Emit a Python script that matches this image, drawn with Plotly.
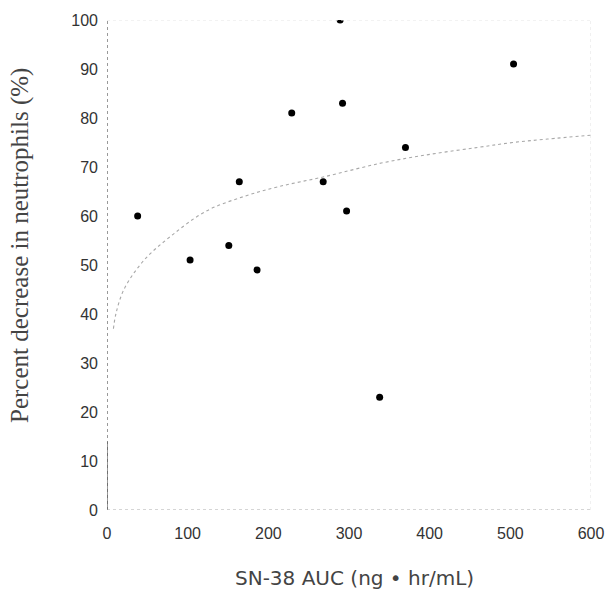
import plotly.graph_objects as go

# Observed patients: SN-38 AUC vs. percent decrease in neutrophils
auc = [38, 103, 151, 164, 186, 229, 268, 289, 292, 297, 338, 370, 504]
pct_decrease = [60, 51, 54, 67, 49, 81, 67, 100, 83, 61, 23, 74, 91]

# Fitted response curve (dotted)
fit_auc = [8, 11, 21, 46, 80, 123, 170, 213, 269, 340, 401, 460, 503, 546, 600]
fit_pct = [37, 40, 45, 51, 56, 61, 64, 66, 68, 70.8, 72.6, 74, 75, 75.7, 76.5]

x_ticks = [0, 100, 200, 300, 400, 500, 600]
y_ticks = [0, 10, 20, 30, 40, 50, 60, 70, 80, 90, 100]

fig = go.Figure()

fig.add_trace(go.Scatter(
    x=fit_auc, y=fit_pct, mode="lines",
    line=dict(color="#a8a8a8", width=1.1, dash="dot", shape="spline"),
    hoverinfo="skip", showlegend=False,
))

fig.add_trace(go.Scatter(
    x=auc, y=pct_decrease, mode="markers",
    marker=dict(color="black", size=7, symbol="circle"),
    showlegend=False,
))

# Frame: left and bottom dotted axes, faint dotted top/right
fig.add_shape(type="line", xref="x", yref="y", x0=0, y0=0, x1=0, y1=100,
              line=dict(color="#555555", width=1.2, dash="dot"))
fig.add_shape(type="line", xref="x", yref="y", x0=0, y0=0, x1=0, y1=14,
              line=dict(color="#555555", width=1.2))
fig.add_shape(type="line", xref="x", yref="y", x0=0, y0=0, x1=600, y1=0,
              line=dict(color="#aaaaaa", width=1, dash="dot"))
fig.add_shape(type="line", xref="x", yref="y", x0=0, y0=100, x1=600, y1=100,
              line=dict(color="#e6e6e6", width=1, dash="dot"))
fig.add_shape(type="line", xref="x", yref="y", x0=600, y0=0, x1=600, y1=100,
              line=dict(color="#e0e0e0", width=1, dash="dot"))

tick_font = dict(family="Liberation Sans, Arial", size=16, color="#333333")

fig.update_xaxes(
    range=[0, 600], tickvals=x_ticks, ticktext=[str(v) for v in x_ticks],
    showgrid=False, zeroline=False, showline=False, ticks="",
    ticklabelstandoff=12, tickfont=tick_font, automargin=False,
)
fig.update_yaxes(
    range=[0, 100], tickvals=y_ticks, ticktext=[str(v) for v in y_ticks],
    showgrid=False, zeroline=False, showline=False, ticks="",
    ticklabelstandoff=8, tickfont=tick_font, automargin=False,
)

fig.add_annotation(
    text="SN-38 AUC (ng \u2022 hr/mL)", xref="paper", yref="paper",
    x=0.5, y=0, xshift=5, yshift=-68, showarrow=False, yanchor="middle",
    font=dict(family="DejaVu Sans", size=20, color="#444444"),
)
fig.add_annotation(
    text="Percent decrease in neutrophils (%)", xref="paper", yref="paper",
    x=0, y=0.5, xshift=-87, yshift=19, textangle=-90, showarrow=False,
    xanchor="center", yanchor="middle",
    font=dict(family="Liberation Serif, Times New Roman", size=25, color="#444444"),
)

fig.update_layout(
    width=607, height=596, autosize=False,
    margin=dict(l=107, r=16, t=20, b=86),
    plot_bgcolor="white", paper_bgcolor="white",
)

fig.write_html("out.html")
